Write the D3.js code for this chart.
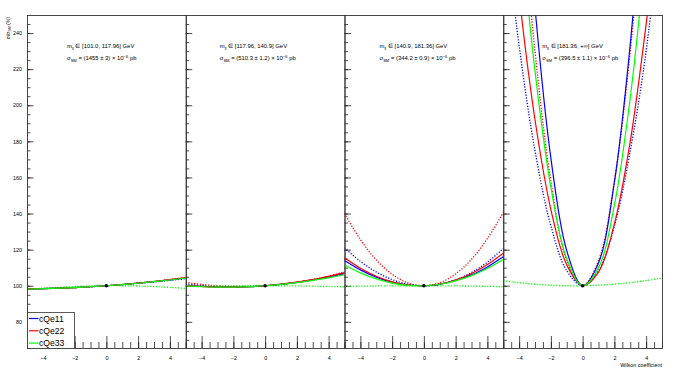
<!DOCTYPE html>
<html>
<head>
<meta charset="utf-8">
<script src="https://cdn.jsdelivr.net/npm/d3@7"></script>
<style>
  body { margin: 0; background: #fff; }
  text { font-family: "Liberation Sans", Arial, Helvetica, sans-serif; }
</style>
</head>
<body>
<div id="chart"></div>
<script>

// ---- data ----
var xs = [-5, -4, -3, -2, -1, 0, 1, 2, 3, 4, 5];

var operators = ["cQe11", "cQe22", "cQe33"];
var opColors = ["#0000ff", "#ff0000", "#00ff00"];

var massBins = ["[101.0, 117.96]", "[117.96, 140.9]", "[140.9, 181.36]", "[181.36, +\u221e]"];
var sigmaSM = ["(1455 \u00b1 3)", "(510.3 \u00b1 1.2)", "(344.2 \u00b1 0.9)", "(396.5 \u00b1 1.1)"];

var xTicks = [-4, -2, 0, 2, 4];
var yTicks = [80, 100, 120, 140, 160, 180, 200, 220, 240];

// solid curves, one list per operator, per mass bin (sigma/sigma_SM in %)
var solid1 = [
  [98.2, 98.36, 98.62, 98.98, 99.44, 100, 100.66, 101.42, 102.28, 103.24, 104.3],
  [98.28, 98.4, 98.64, 98.98, 99.44, 100, 100.68, 101.46, 102.36, 103.36, 104.48],
  [98.2, 98.37, 98.63, 98.99, 99.45, 100, 100.65, 101.39, 102.23, 103.17, 104.2]
];
var solid2 = [
  [100.25, 99.64, 99.31, 99.26, 99.49, 100, 100.79, 101.86, 103.21, 104.84, 106.75],
  [100.25, 99.6, 99.25, 99.2, 99.45, 100, 100.85, 102.0, 103.45, 105.2, 107.25],
  [99.9, 99.44, 99.22, 99.24, 99.5, 100, 100.74, 101.72, 102.94, 104.4, 106.1]
];
var solid3 = [
  [114.0, 108.8, 104.8, 102.0, 100.4, 100, 100.8, 103.2, 106.0, 110.4, 116.0],
  [115.5, 109.72, 105.28, 102.18, 100.42, 100, 100.92, 103.18, 106.78, 111.72, 118.0],
  [111.5, 107.12, 103.78, 101.48, 100.22, 100, 100.82, 102.68, 105.58, 109.52, 114.5]
];
var solid4 = [
  [516.85, 369.48, 254.11, 170.74, 119.37, 100, 112.63, 157.26, 233.89, 342.52, 483.15],
  [348.75, 260.8, 191.95, 142.2, 111.55, 100, 107.55, 134.2, 179.95, 244.8, 318.75],
  [422.45, 308.36, 219.07, 154.58, 114.89, 100, 109.91, 144.62, 204.13, 288.44, 397.55]
];

// dotted curves
var dotted1 = [
  [98.1, 98.32, 98.62, 99.0, 99.46, 100, 100.62, 101.32, 102.1, 102.96, 103.9],
  [98.4, 98.48, 98.68, 99.0, 99.44, 100, 100.68, 101.48, 102.4, 103.44, 104.6],
  [97.8, 98.54, 99.12, 99.56, 99.86, 100, 100.0, 99.84, 99.54, 99.1, 98.5]
];
var dotted2 = [
  [101.0, 100.16, 99.64, 99.44, 99.56, 100, 100.76, 101.84, 103.24, 104.96, 107.0],
  [101.85, 100.72, 99.97, 99.6, 99.61, 100, 100.77, 101.92, 103.45, 105.36, 107.65],
  [99.6, 99.76, 99.88, 99.96, 100.0, 100, 99.96, 99.88, 99.76, 99.6, 99.4]
];
var dotted3 = [
  [121.0, 113.48, 107.62, 103.42, 100.88, 100, 100.78, 103.22, 107.32, 113.08, 120.5],
  [140.0, 125.56, 114.34, 106.34, 101.56, 100, 101.66, 106.54, 114.64, 126.16, 140.5],
  [99.6, 99.75, 99.87, 99.95, 99.99, 100, 99.97, 99.91, 99.81, 99.67, 99.5]
];
var dotted4 = [
  [307.5, 233, 174.7, 133.2, 108.3, 100, 108.3, 133.2, 174.7, 230, 307.5],
  [460, 330, 230, 158, 114, 100, 114, 158, 230, 330, 460],
  [102.8, 101.67, 100.83, 100.27, 99.99, 100, 100.29, 100.87, 101.73, 102.87, 104.3]
];

var solidSets = [solid1, solid2, solid3, solid4];
var dottedSets = [dotted1, dotted2, dotted3, dotted4];

// ---- layout ----
var width = 690, height = 378;
var margin = { top: 15, right: 28, bottom: 30, left: 27 };
var nPanels = 4;
var pw = (width - margin.left - margin.right) / nPanels;
var plotBottom = height - margin.bottom;
var labelOffset = [40, 34, 35, 39];

var svg = d3.select("#chart")
    .append("svg")
    .attr("width", width)
    .attr("height", height);

var y = d3.scaleLinear()
    .domain([65.5, 250])
    .range([plotBottom, margin.top]);

var line = function (xsc) {
    return d3.line()
        .x(function (d) { return xsc(d[0]) })
        .y(function (d) { return y(d[1]) })
        .curve(d3.curveCatmullRom);
};

for (var p = 0; p < nPanels; p++) {
    var x0 = margin.left + p * pw;
    var x = d3.scaleLinear().domain([-5, 5]).range([x0, x0 + pw]);
    var g = svg.append("g");

    svg.append("clipPath").attr("id", "clip" + p)
        .append("rect")
        .attr("x", x0).attr("y", margin.top)
        .attr("width", pw).attr("height", plotBottom - margin.top);

    // x minor ticks
    g.append("g")
        .attr("transform", "translate(0," + plotBottom + ")")
        .call(d3.axisBottom(x).tickValues(d3.range(-5, 5.01, 0.5)).tickSize(-6).tickFormat(""))
        .call(function (a) { a.select(".domain").remove() });

    // x major ticks
    g.append("g")
        .attr("transform", "translate(0," + plotBottom + ")")
        .call(d3.axisBottom(x).tickValues(xTicks).tickSize(-12).tickPadding(8).tickFormat(d3.format("d")))
        .call(function (a) {
            a.select(".domain").remove();
            a.selectAll("text").style("font-size", "5.4px").attr("fill", "#000")
                .text(function (d) { return d < 0 ? "\u2212" + (-d) : d });
        });

    // y minor ticks
    g.append("g")
        .attr("transform", "translate(" + x0 + ",0)")
        .call(d3.axisLeft(y).tickValues(d3.range(70, 250, 5)).tickSize(-3.5).tickFormat(""))
        .call(function (a) { a.select(".domain").remove() });

    // y major ticks
    g.append("g")
        .attr("transform", "translate(" + x0 + ",0)")
        .call(d3.axisLeft(y).tickValues(yTicks).tickSize(-6.5).tickPadding(5)
            .tickFormat(p == 0 ? d3.format("d") : ""))
        .call(function (a) {
            a.select(".domain").remove();
            a.selectAll("text").style("font-size", "5.4px").attr("fill", "#000");
        });

    g.selectAll(".tick line").attr("stroke", "#222").attr("stroke-width", 0.8);

    // curves
    var curves = g.append("g").attr("clip-path", "url(#clip" + p + ")");
    for (var k = 0; k < operators.length; k++) {
        var dots = xs.map(function (v, i) { return [v, dottedSets[p][k][i]] });
        curves.append("path")
            .datum(dots)
            .attr("d", line(x))
            .attr("fill", "none")
            .attr("stroke", opColors[k])
            .attr("stroke-width", 1.3)
            .attr("stroke-dasharray", "1.2,1.6");
    }
    for (var k = 0; k < operators.length; k++) {
        var pts = xs.map(function (v, i) { return [v, solidSets[p][k][i]] });
        curves.append("path")
            .datum(pts)
            .attr("d", line(x))
            .attr("fill", "none")
            .attr("stroke", opColors[k])
            .attr("stroke-width", 1.2);
    }

    // SM point
    g.append("circle")
        .attr("cx", x(0)).attr("cy", y(100))
        .attr("r", 1.8).attr("fill", "#000");

    // frame
    g.append("rect")
        .attr("x", x0 + 0.5).attr("y", margin.top + 0.5)
        .attr("width", pw).attr("height", plotBottom - margin.top)
        .attr("fill", "none").attr("stroke", "#333").attr("stroke-width", 0.9);

    // labels
    var t1 = g.append("text")
        .attr("x", x0 + labelOffset[p]).attr("y", 48)
        .style("font-size", "5.9px");
    t1.append("tspan").text("m");
    t1.append("tspan").attr("dy", 1.5).style("font-size", "4.1px").text("ll");
    t1.append("tspan").attr("dy", -1.5).text(" \u2208 " + massBins[p] + " GeV");

    var t2 = g.append("text")
        .attr("x", x0 + labelOffset[p]).attr("y", 60)
        .style("font-size", "5.9px");
    t2.append("tspan").text("\u03c3");
    t2.append("tspan").attr("dy", 1.5).style("font-size", "4.1px").text("SM");
    t2.append("tspan").attr("dy", -1.5).text(" = " + sigmaSM[p] + " \u00d7 10");
    t2.append("tspan").attr("dy", -2.4).style("font-size", "4.1px").text("\u22126");
    t2.append("tspan").attr("dy", 2.4).text(" pb");
}

// axis titles
var yt = svg.append("text")
    .attr("transform", "translate(10,17) rotate(-90)")
    .attr("text-anchor", "end")
    .style("font-size", "5px");
yt.append("tspan").text("\u03c3/\u03c3");
yt.append("tspan").attr("dy", 1.3).style("font-size", "3.6px").text("SM");
yt.append("tspan").attr("dy", -1.3).text(" (%)");

svg.append("text")
    .attr("x", margin.left + nPanels * pw)
    .attr("y", 367)
    .attr("text-anchor", "end")
    .style("font-size", "5.4px")
    .text("Wilson coefficient");

// legend
var legend = svg.append("g");
legend.append("rect")
    .attr("x", margin.left + 0.5).attr("y", 312.5)
    .attr("width", 47).attr("height", plotBottom - 312)
    .attr("fill", "#fff").attr("stroke", "#333").attr("stroke-width", 0.8);

legend.selectAll(".entry")
    .data(operators)
    .enter()
    .append("g")
    .each(function (d, i) {
        var e = d3.select(this);
        var ly = 318.5 + i * 12.3;
        e.append("line")
            .attr("x1", 29).attr("x2", 38.5)
            .attr("y1", ly).attr("y2", ly)
            .attr("stroke", opColors[i]).attr("stroke-width", 1.2);
        e.append("text")
            .attr("x", 39).attr("y", ly + 3)
            .style("font-size", "8.6px")
            .text(d);
    });

</script>
</body>
</html>
